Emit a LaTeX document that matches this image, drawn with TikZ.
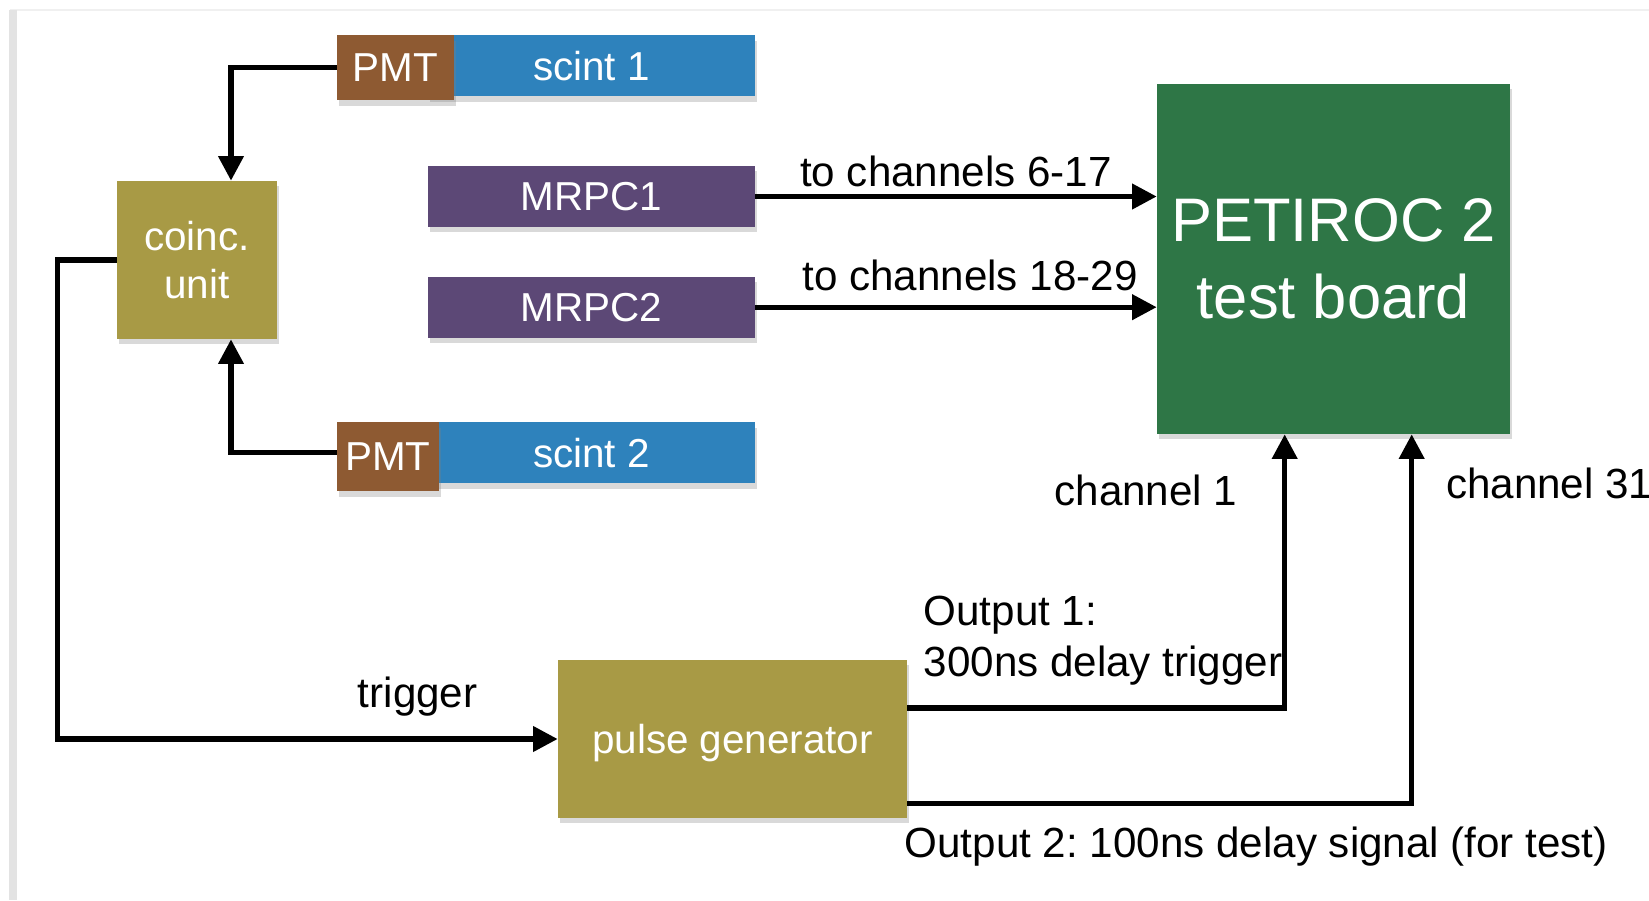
\documentclass[tikz,border=0pt]{standalone}
\usepackage{fontspec}
\setmainfont{Liberation Sans}
\usetikzlibrary{
  arrows.meta,
  positioning,
  calc,
  shadows
}
\usepackage{xcolor}
\definecolor{pmtBrown}{HTML}{8E5A32}
\definecolor{scintBlue}{HTML}{2E82BC}
\definecolor{mrpcPurple}{HTML}{5C4876}
\definecolor{unitOlive}{HTML}{A89A45}
\definecolor{boardGreen}{HTML}{2E7646}
\newcommand\boxfont{\fontsize{23}{27}\selectfont}
\newcommand\lblfont{\fontsize{24}{29}\selectfont}
\newcommand\boardfont{\fontsize{35}{44}\selectfont}
\frenchspacing
\tikzset{
  block/.style={
    inner sep=0pt,
    text=white,
    align=center,
    font=\boxfont,
    drop shadow={shadow xshift=1pt, shadow yshift=-3pt, opacity=0.3}
  },
  pmt/.style={block, fill=pmtBrown},
  scint/.style={block, fill=scintBlue, minimum width=6.54cm, minimum height=1.22cm},
  mrpc/.style={block, fill=mrpcPurple, minimum width=6.54cm, minimum height=1.22cm},
  unitbox/.style={block, fill=unitOlive},
  sig/.style={line width=3pt},
  lbl/.style={inner sep=0pt, font=\lblfont}
}

\begin{document}
\begin{tikzpicture}[
      x=0.02cm, y=-0.02cm,
      >={Triangle[length=14pt,width=14pt]}
      ]
      \useasboundingbox (0,0) rectangle (1649,900);

      % page edge
      \draw[gray!12, line width=1pt] (10,10) -- (1649,10);
      \draw[gray!22, line width=4pt] (13,10) -- (13,900);

      % detectors
      \node[mrpc] (mrpcA) at (591.5,196.5) {MRPC1};
      \node[mrpc, below=0.98cm of mrpcA] (mrpcB) {MRPC2};
      \node[scint, above=1.38cm of mrpcA] (scintA) {scint 1};
      \node[scint, below=1.68cm of mrpcB] (scintB) {scint 2};
      \node[pmt, minimum width=2.34cm, minimum height=1.3cm, anchor=north west]
        (pmtA) at ($(scintA.north west)+(-91,0)$) {PMT};
      \node[pmt, minimum width=2.04cm, minimum height=1.38cm, anchor=north west]
        (pmtB) at ($(scintB.north west)+(-91,0)$) {PMT};

      % electronics
      \node[unitbox, minimum width=3.2cm, minimum height=3.16cm] (coinc) at (197,260) {coinc.\\unit};
      \node[unitbox, minimum width=6.98cm, minimum height=3.16cm, text depth=0pt] (pulse) at (732.5,739) {pulse generator};
      \node[block, font=\boardfont, fill=boardGreen, minimum width=7.06cm, minimum height=7cm]
        (petiroc) at (1333.5,259) {PETIROC 2\\test board};

      \coordinate (inA) at ($(petiroc.south west)+(128,0)$);
      \coordinate (inB) at ($(petiroc.south west)+(255,0)$);

      % connections
      \draw[sig,->] (pmtA.west) -| ($(coinc.north)+(34,0)$);
      \draw[sig,->] (pmtB.west |- scintB.center) -| ($(coinc.south)+(34,0)$);
      \draw[sig,->] (coinc.west) -- ++(-59,0) |- (pulse.west);
      \draw[sig,->] (mrpcA.east) -- (mrpcA.east -| petiroc.west)
        node[lbl, midway, above=4pt] {to channels 6-17};
      \draw[sig,->] (mrpcB.east) -- (mrpcB.east -| petiroc.west)
        node[lbl, midway, above=8pt, xshift=0.28cm] {to channels 18-29};
      \draw[sig,->] ($(pulse.east)+(0,-31)$) -| (inA);
      \draw[sig,->] ($(pulse.south east)+(0,-15)$) -| (inB);

      % labels
      \node[lbl, anchor=base east] (chA) at ($(inA)+(-47,71)$) {channel 1};
      \node[lbl, anchor=base west] (chB) at ($(inB)+(34,64)$) {channel 31};
      \node[lbl, anchor=base] (trig) at ($(pulse.west)+(-140,-32)$) {trigger};
      \node[lbl, anchor=north west, align=left] (outA)
        at ($(pulse.north east)+(16,-64)$) {Output 1:\\300ns delay trigger};
      \node[lbl, anchor=base west] (outB)
        at ($(pulse.south east)+(-3,39)$) {Output 2: 100ns delay signal (for test)};
    \end{tikzpicture}
\end{document}
